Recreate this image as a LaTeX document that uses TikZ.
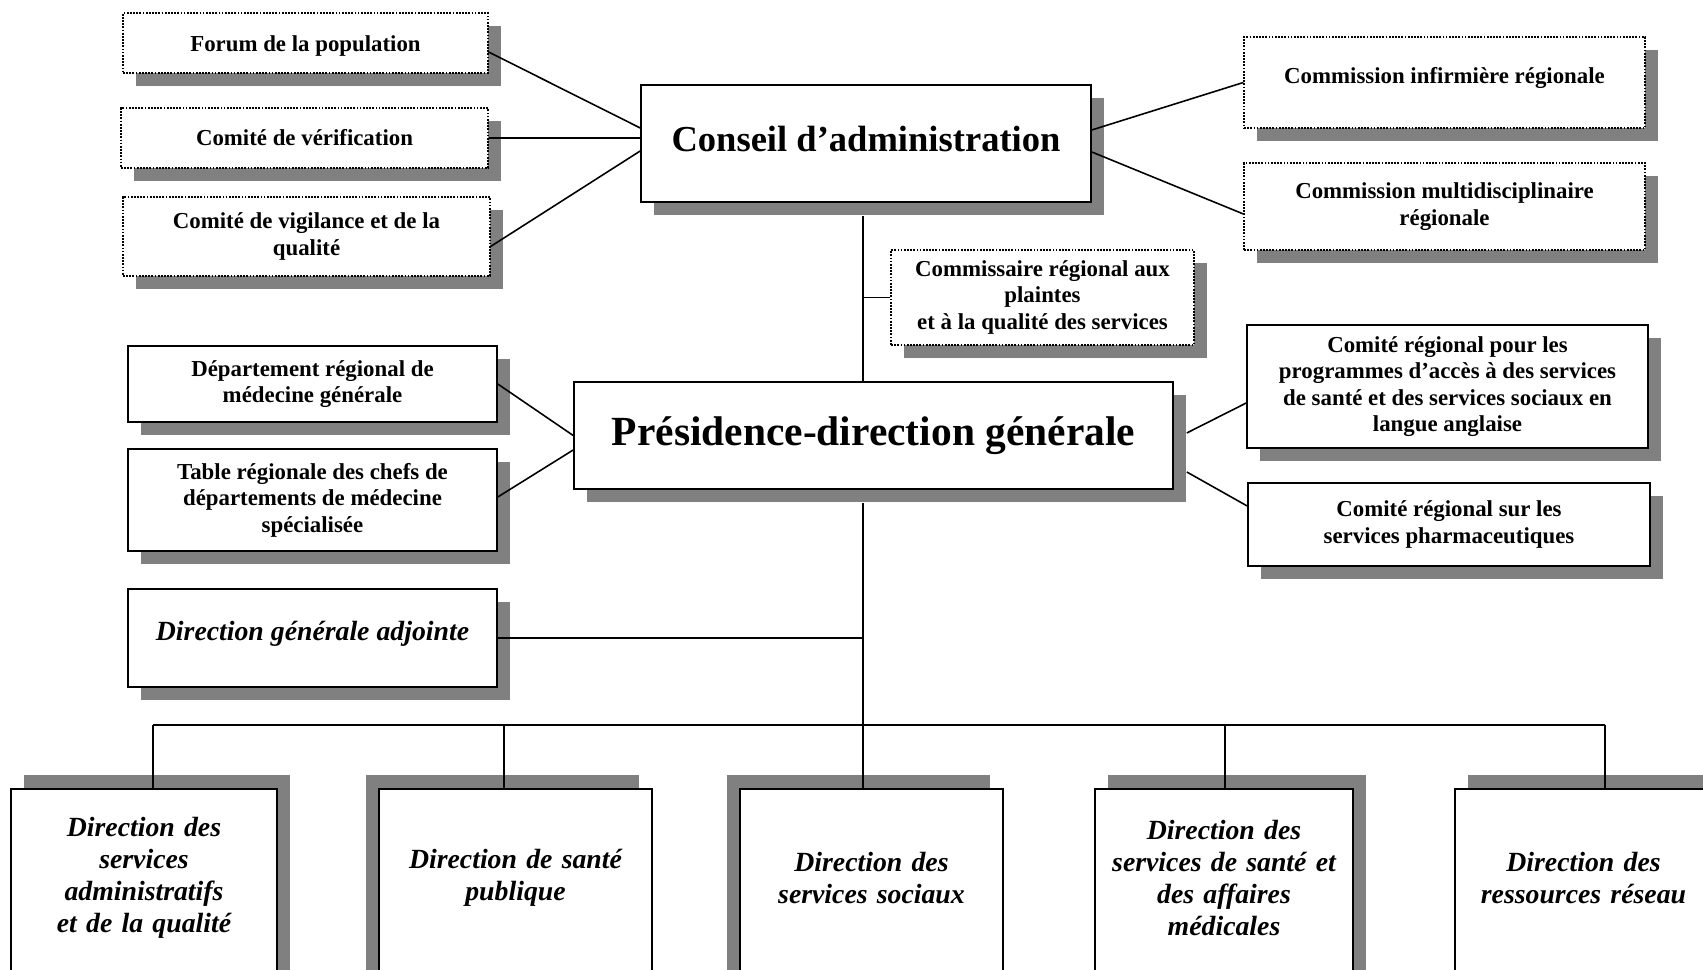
\documentclass[tikz,border=0pt]{standalone}
\usepackage{fontspec}
\setmainfont{Liberation Serif}
\usetikzlibrary{shadows}
\definecolor{shadowgray}{RGB}{128,128,128}
\newcommand{\dirtail}{\par\vspace*{2.44cm}}

\begin{document}
\begin{tikzpicture}[
    orgbox/.style={rectangle, draw=black, line width=0.9pt, fill=white, align=center, inner sep=3pt, font=\fontsize{13}{15.1}\selectfont\bfseries, drop shadow={shadow xshift=0.26cm, shadow yshift=-0.27cm, fill=shadowgray, opacity=1}},
    dotbox/.style={orgbox, line width=0.7pt, dash pattern=on 1pt off 0.8pt},
    dirbox/.style={rectangle, draw=black, line width=0.9pt, fill=white, anchor=north, align=center, inner sep=3pt, text width=4.8cm, minimum height=6cm, font=\fontsize{15.8}{18.3}\selectfont\bfseries\itshape, execute at end node=\dirtail, drop shadow={shadow xshift=#1, shadow yshift=0.27cm, fill=shadowgray, opacity=1}},
    link/.style={line width=0.9pt, draw=black}
]
\useasboundingbox (0,0) rectangle (34.06,19.4);

% Committees of the board
\node (forum) [dotbox, minimum width=7.30cm, minimum height=1.20cm, text height=0.44cm] at (6.11,18.54) {Forum de la population};
\node (verif) [dotbox, minimum width=7.34cm, minimum height=1.20cm] at (6.09,16.64) {Comité de vérification};
\node (vigil) [dotbox, minimum width=7.34cm, minimum height=1.58cm] at (6.13,14.67) {Comité de vigilance et de la\\qualité};

% Board and commissioner
\node (conseil) [orgbox, minimum width=9.00cm, minimum height=2.34cm, text depth=0.17cm, font=\fontsize{20.8}{24}\selectfont\bfseries] at (17.32,16.53) {Conseil d’administration};
\node (commissaire) [dotbox, minimum width=6.06cm, minimum height=1.90cm] at (20.85,13.45) {Commissaire régional aux\\plaintes\\et à la qualité des services};

% Regional commissions
\node (infirm) [dotbox, minimum width=8.02cm, minimum height=1.82cm, text depth=0.27cm] at (28.89,17.75) {Commission infirmière régionale};
\node (multi) [dotbox, minimum width=8.02cm, minimum height=1.74cm] at (28.89,15.27) {Commission multidisciplinaire\\régionale};

% Executive level
\node (presidence) [orgbox, minimum width=11.98cm, minimum height=2.14cm, font=\fontsize{23.6}{28}\selectfont\bfseries] at (17.47,10.69) {Présidence-direction générale};
\node (dep) [orgbox, minimum width=7.38cm, minimum height=1.52cm] at (6.25,11.72) {Département régional de\\médecine générale};
\node (table) [orgbox, minimum width=7.38cm, minimum height=2.04cm] at (6.25,9.40) {Table régionale des chefs de\\départements de médecine\\spécialisée};
\node (dga) [orgbox, minimum width=7.38cm, minimum height=1.96cm, text depth=0.29cm, font=\fontsize{15.8}{18.3}\selectfont\bfseries\itshape] at (6.25,6.64) {Direction générale adjointe};
\node (anglo) [orgbox, minimum width=8.02cm, minimum height=2.46cm] at (28.95,11.67) {Comité régional pour les\\programmes d’accès à des services\\de santé et des services sociaux en\\langue anglaise};
\node (pharma) [orgbox, minimum width=8.04cm, minimum height=1.66cm] at (28.98,8.91) {Comité régional sur les\\services pharmaceutiques};

% Directions
\node (dir1) [dirbox=0.26cm, minimum width=5.32cm] at (2.88,3.64) {Direction des\\services\\administratifs\\et de la qualité};
\node (dir2) [dirbox=-0.26cm, minimum width=5.46cm] at (10.31,3.64) {Direction de santé\\publique};
\node (dir3) [dirbox=-0.26cm, minimum width=5.26cm] at (17.43,3.64) {Direction des\\services sociaux};
\node (dir4) [dirbox=0.26cm, minimum width=5.16cm] at (24.48,3.64) {Direction des\\services de santé et\\des affaires\\médicales};
\node (dir5) [dirbox=0.26cm, minimum width=5.14cm] at (31.67,3.64) {Direction des\\ressources réseau};

% Links
\coordinate (spine) at (17.26,0);
\foreach \i/\x in {1/3.06, 2/10.08, 3/17.26, 4/24.50, 5/32.10}
    \coordinate (bus\i) at (\x,4.90);

\draw [link] ([yshift=-0.18cm]forum.east) -- ([yshift=0.31cm]conseil.west);
\draw [link] (verif.east) -- (verif.east -| conseil.west);
\draw [link] ([yshift=-0.2cm]vigil.east) -- ([yshift=-0.15cm]conseil.west);
\draw [link] ([yshift=0.27cm]conseil.east) -- (infirm.west);
\draw [link] ([yshift=-0.17cm]conseil.east) -- ([yshift=-0.15cm]multi.west);
\draw [link] (spine |- conseil.south) ++(0,-0.27) -- (spine |- presidence.north);
\draw [link] (commissaire.west) -- (commissaire.west -| spine);

\draw [link] (dep.east) -- (presidence.west);
\draw [link] ([yshift=0.06cm]table.east) -- ([yshift=-0.29cm]presidence.west);
\draw [link] ([xshift=0.26cm, yshift=0.05cm]presidence.east) -- ([yshift=-0.33cm]anglo.west);
\draw [link] ([xshift=0.26cm, yshift=-0.73cm]presidence.east) -- ([yshift=0.37cm]pharma.west);
\draw [link] (dga.east) -- (dga.east -| spine);

\draw [link] (spine |- presidence.south) ++(0,-0.27) -- (bus3);
\draw [link] (bus1) -- (bus5);
\foreach \i in {1,...,5}
    \draw [link] (bus\i) -- (bus\i |- dir\i.north);

\end{tikzpicture}
\end{document}
